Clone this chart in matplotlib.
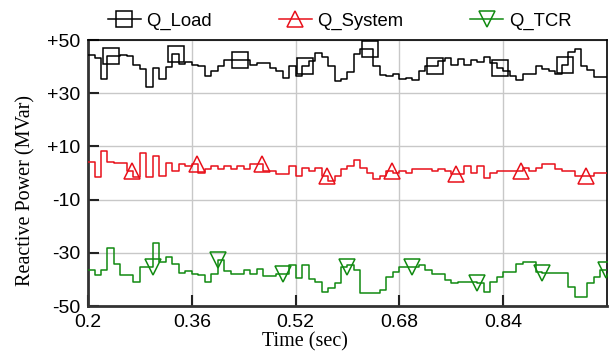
import numpy as np
import matplotlib
matplotlib.use("Agg")
import matplotlib.pyplot as plt

# step series sampled every 10 ms from 0.2 s to 1.0 s
t_start = 0.2
dt = 0.01

q_load = [44.4, 43.2, 35.5, 44.0, 44.0, 44.4, 44.0, 40.7, 39.2, 32.2,
          39.5, 35.5, 40.0, 44.8, 41.0, 41.6, 40.7, 40.1, 36.5, 38.3,
          40.1, 42.6, 42.6, 42.6, 42.6, 40.7, 41.3, 41.3, 39.5, 38.3,
          35.9, 40.1, 36.5, 40.1, 42.0, 45.3, 43.5, 40.4, 34.6, 35.2,
          37.9, 44.8, 46.5, 46.5, 40.4, 36.7, 36.5, 37.1, 35.5, 35.9,
          35.0, 38.3, 40.1, 40.1, 42.0, 43.2, 40.7, 42.8, 40.7, 42.6,
          41.6, 43.5, 41.3, 39.5, 38.3, 36.5, 34.9, 37.1, 37.1, 40.1,
          39.0, 38.3, 37.1, 40.7, 45.6, 46.5, 40.1, 38.7, 36.1, 36.1]

q_system = [4.2, -1.5, 8.4, 4.2, 3.7, 3.7, 0.8, -1.5, 7.7, -1.5,
            6.5, -1.1, 3.9, 0.8, 3.3, 2.7, 3.3, 0.1, 1.4, 2.7,
            1.4, 2.7, 1.4, 2.7, 1.4, 3.3, 3.3, 0.8, 0.8, -0.5,
            -0.5, 2.7, -1.1, 2.0, 0.8, 2.0, -1.1, -3.0, -1.1, 1.4,
            2.7, 4.8, 2.0, 0.1, -2.4, -1.1, 0.8, 0.1, 0.8, 0.1,
            1.4, 1.4, 1.4, 0.8, 1.4, 0.8, -0.5, -0.5, 2.7, 0.1,
            2.7, -1.8, 0.1, 0.8, 0.8, 0.8, 0.8, 2.0, 0.8, 2.0,
            3.3, 3.3, 1.4, 0.8, 0.8, -1.1, -1.1, -1.1, 0.1, 0.1]

q_tcr = [-36.3, -38.2, -36.3, -28.3, -34.1, -38.4, -38.4, -41.0, -35.3, -35.3,
         -26.4, -33.5, -31.6, -34.1, -37.6, -36.7, -37.9, -38.4, -41.0, -37.9,
         -32.6, -36.7, -37.9, -37.9, -36.3, -37.9, -36.0, -38.8, -38.8, -37.8,
         -37.8, -34.7, -39.3, -34.5, -39.7, -40.9, -44.6, -43.4, -41.3, -35.3,
         -34.7, -36.3, -45.0, -45.0, -45.0, -44.0, -39.0, -37.2, -35.3, -35.3,
         -35.3, -34.5, -36.3, -37.8, -37.8, -40.3, -41.5, -40.9, -40.9, -40.9,
         -41.5, -44.6, -40.9, -39.0, -37.2, -37.2, -34.1, -33.5, -33.5, -37.2,
         -37.6, -37.6, -37.6, -37.6, -42.8, -46.7, -46.7, -41.5, -39.0, -36.3]

# times where the simulator drew the series symbols
mark_load = [0.235, 0.335, 0.435, 0.535, 0.635, 0.735, 0.835, 0.935]
mark_system = [0.268, 0.368, 0.468, 0.568, 0.668, 0.768, 0.868, 0.968]
mark_tcr = [0.300, 0.400, 0.500, 0.600, 0.700, 0.800, 0.900, 0.998]

x_ticks = [0.2, 0.36, 0.52, 0.68, 0.84]
y_ticks = [50, 30, 10, -10, -30, -50]
y_ticklabels = ["+50", "+30", "+10", "-10", "-30", "-50"]

series = [
    ("Q_Load", q_load, mark_load, "black", "s"),
    ("Q_System", q_system, mark_system, "#e8101a", "^"),
    ("Q_TCR", q_tcr, mark_tcr, "#118a11", "v"),
]

fig = plt.figure(figsize=(6.1, 3.56), dpi=100)
ax = fig.add_axes([0.1443, 0.1404, 0.8507, 0.7472])

for name, vals, marks, color, mk in series:
    vals = np.array(vals)
    t = t_start + dt * np.arange(len(vals) + 1)
    y = np.append(vals, vals[-1])
    ax.step(t, y, where="post", color=color, lw=1.1, zorder=3)
    idx = np.clip(((np.array(marks) - t_start) / dt).astype(int), 0, len(vals) - 1)
    ax.plot(marks, vals[idx], ls="none", marker=mk, ms=11, mfc="none",
            mec=color, mew=1.1, zorder=4)
    ax.plot([], [], color=color, lw=1.1, marker=mk, ms=11, mfc="none",
            mec=color, mew=1.1, label=name)

ax.set_xlim(0.2, 1.0)
ax.set_ylim(-50, 50)
ax.set_xticks(x_ticks)
ax.set_xticklabels([f"{v:g}" for v in x_ticks])
ax.set_yticks(y_ticks)
ax.set_yticklabels(y_ticklabels)
ax.grid(True, color="#c8c8c8", lw=1)
ax.set_axisbelow(True)

ax.tick_params(direction="in", length=8, width=1.5, color="#222222",
               labelsize=14, pad=5.5)
for lab in ax.get_xticklabels() + ax.get_yticklabels():
    lab.set_family("Liberation Sans")

for side in ["left", "bottom"]:
    ax.spines[side].set_linewidth(2)
    ax.spines[side].set_color("#333333")
for side in ["top", "right"]:
    ax.spines[side].set_linewidth(1.2)
    ax.spines[side].set_color("black")

ax.set_xlabel("Time (sec)", family="Liberation Serif", fontsize=14.5)
ax.xaxis.set_label_coords(0.418, -0.098)
ax.set_ylabel("Reactive Power (MVar)", family="Liberation Serif", fontsize=14.5)
ax.yaxis.set_label_coords(-0.102, 0.436)

ax.legend(loc="lower center", bbox_to_anchor=(0.485, 1.01), ncol=3,
          frameon=False, handlelength=1.8, columnspacing=3.6,
          handletextpad=0.3, borderaxespad=0,
          prop={"family": "Liberation Sans", "size": 13.3})

fig.savefig("out.png", dpi=100)
